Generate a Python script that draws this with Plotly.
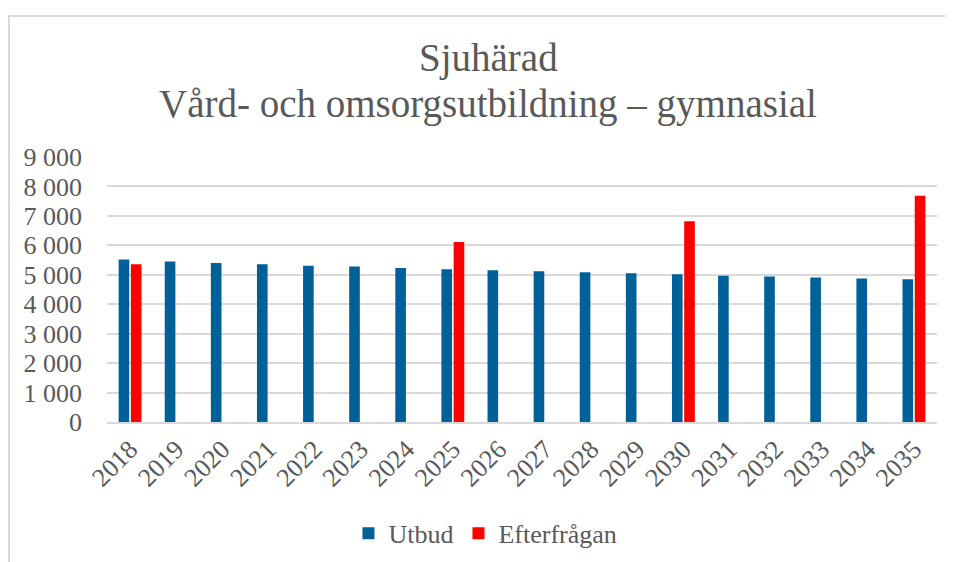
import plotly.graph_objects as go

years = [str(y) for y in range(2018, 2036)]
utbud = [5520, 5450, 5400, 5360, 5310, 5280, 5230, 5190, 5150, 5120,
         5085, 5050, 5020, 4970, 4940, 4905, 4870, 4850]
efterfragan = [5360, None, None, None, None, None, None, 6110, None, None,
               None, None, 6820, None, None, None, None, 7680]
y_ticks = [0, 1000, 2000, 3000, 4000, 5000, 6000, 7000, 8000, 9000]
y_ticktext = ["0", "1 000", "2 000", "3 000", "4 000", "5 000", "6 000", "7 000", "8 000", "9 000"]
title_lines = ["Sjuhärad", "Vård- och omsorgsutbildning – gymnasial"]

FONT = "Liberation Serif"
GREY = "#595959"

# page body has an 8px margin, so the figure is drawn 8px right/down
W, H = 945, 554
L, R, T, B = 99, 16, 149, 140
PW, PH = W - L - R, H - T - B


def px(x):
    return (x - L) / PW


def py(y):
    return (H - B - y) / PH


fig = go.Figure()
fig.add_trace(go.Bar(name="Utbud", x=years, y=utbud, marker_color="#006199",
                     marker_line_width=0))
fig.add_trace(go.Bar(name="Efterfrågan", x=years, y=efterfragan, marker_color="#FF0000",
                     marker_line_width=0))

fig.update_layout(
    width=W, height=H,
    barmode="group", bargap=0.47, bargroupgap=0.13,
    paper_bgcolor="white", plot_bgcolor="white",
    margin=dict(l=L, r=R, t=T, b=B, autoexpand=False),
    font=dict(family=FONT, color=GREY, size=26),
    xaxis=dict(tickangle=-45, tickfont=dict(size=26, color=GREY), showgrid=False,
               showline=True, linecolor="#d9d9d9", linewidth=1.5, ticks="",
               automargin=False),
    yaxis=dict(range=[0, 9000], tickvals=y_ticks, ticktext=y_ticktext,
               tickfont=dict(size=26, color=GREY), showgrid=True,
               gridcolor="#d9d9d9", gridwidth=1.5, zeroline=False, ticks="",
               ticklabelstandoff=24, automargin=False),
    legend=dict(orientation="h", x=0.456, xanchor="center", y=-0.42, yanchor="middle",
                font=dict(size=26, color=GREY), itemwidth=30),
    showlegend=True,
    annotations=[
        dict(text=title_lines[0], xref="paper", yref="paper", x=px(480), y=py(50),
             xanchor="center", yanchor="middle", showarrow=False,
             font=dict(family=FONT, size=39, color=GREY)),
        dict(text=title_lines[1], xref="paper", yref="paper", x=px(480), y=py(96),
             xanchor="center", yanchor="middle", showarrow=False,
             font=dict(family=FONT, size=39, color=GREY)),
    ],
    shapes=[dict(type="rect", xref="paper", yref="paper",
                 x0=px(1), x1=px(1000), y0=py(620), y1=py(8),
                 line=dict(color="#d9d9d9", width=2), fillcolor="rgba(0,0,0,0)",
                 layer="below")],
)

fig.write_html("out.html")
